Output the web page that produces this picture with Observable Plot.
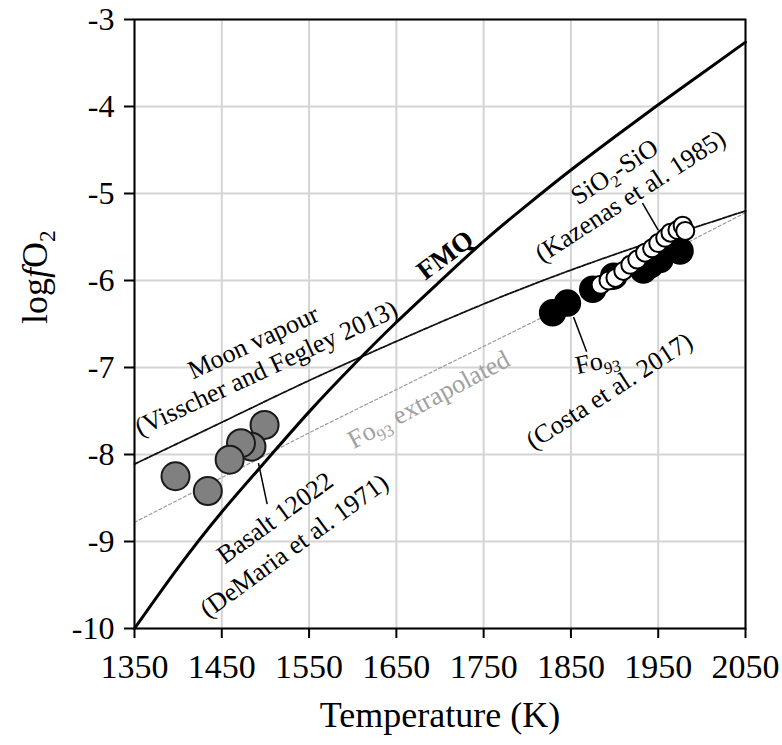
<!DOCTYPE html>
<html>
<head>
<meta charset="utf-8">
<script src="https://cdn.jsdelivr.net/npm/d3@7"></script>
<script src="https://cdn.jsdelivr.net/npm/@observablehq/plot@0.6"></script>
<style>
  html, body { margin: 0; padding: 0; background: #fff; }
</style>
</head>
<body>
<div id="chart"></div>
<script>
// ---- axes ----
const xTicks = [1350, 1450, 1550, 1650, 1750, 1850, 1950, 2050];
const yTicks = [-10, -9, -8, -7, -6, -5, -4, -3];

// ---- FMQ buffer ----
const fmqT = [1350, 1400, 1450, 1500, 1550, 1600, 1650, 1700, 1750, 1800, 1850, 1900, 1950, 2000, 2050];
const fmqV = [-10.0, -9.30, -8.66, -8.08, -7.51, -6.98, -6.48, -6.01, -5.55, -5.13, -4.73, -4.35, -3.98, -3.62, -3.26];

// ---- Moon vapour (Visscher and Fegley 2013) ----
const moonT = [1350, 1450, 1550, 1650, 1750, 1850, 1950, 2050];
const moonV = [-8.11, -7.63, -7.15, -6.70, -6.27, -5.88, -5.53, -5.20];

// ---- Fo93 extrapolated ----
const foExtT = [1350, 1560, 1812, 2050];
const foExtV = [-8.78, -7.70, -6.45, -5.22];

// ---- Basalt 12022 (DeMaria et al. 1971) ----
const basaltT = [1499, 1484, 1472, 1459, 1434, 1397];
const basaltV = [-7.66, -7.91, -7.87, -8.06, -8.42, -8.25];

// ---- Fo93 (Costa et al. 2017) ----
const fo93T = [1829, 1846, 1875, 1899, 1933, 1941, 1952, 1975];
const fo93V = [-6.37, -6.26, -6.10, -5.95, -5.88, -5.82, -5.76, -5.66];

// ---- SiO2-SiO (Kazenas et al. 1985) ----
const sioT = [1884, 1893, 1901, 1910, 1918, 1926, 1935, 1943, 1950, 1958, 1964, 1972, 1978, 1981];
const sioV = [-6.05, -6.00, -5.97, -5.89, -5.82, -5.76, -5.68, -5.63, -5.57, -5.51, -5.45, -5.42, -5.37, -5.43];

// ---- annotations ----
const labelText  = ["Moon vapour", "(Visscher and Fegley 2013)", "Basalt 12022", "(DeMaria et al. 1971)",
                    "SiO_{2}-SiO", "(Kazenas et al. 1985)", "Fo_{93}", "(Costa et al. 2017)"];
const labelT     = [1486, 1501, 1511, 1533, 1900, 1918, 1880, 1894];
const labelV     = [-6.71, -7.01, -8.73, -9.05, -4.75, -5.03, -6.93, -7.27];
const labelAngle = [-25, -25, -36, -36, -33, -33, -12, -33];

const fmqLabel = ["FMQ"], fmqLabelT = [1706], fmqLabelV = [-5.71];
const extLabel = ["Fo_{93} extrapolated"], extLabelT = [1687], extLabelV = [-7.37];

// leader lines
const leadT1 = [1492, 1853, 1932];
const leadV1 = [-8.10, -6.42, -5.11];
const leadT2 = [1502, 1868, 1950];
const leadV2 = [-8.57, -6.82, -5.42];

const xTitle = "Temperature (K)";
const yTitle = "log*{f}O_{2}";

// ---- build tables ----
const zip = (xs, ys) => xs.map((x, i) => ({T: x, v: ys[i]}));
const fmq = zip(fmqT, fmqV);
const moon = zip(moonT, moonV);
const foExt = zip(foExtT, foExtV);
const basalt = zip(basaltT, basaltV);
const fo93 = zip(fo93T, fo93V);
const sio = zip(sioT, sioV);
const labels = labelText.map((s, i) => ({s, T: labelT[i], v: labelV[i], a: labelAngle[i]}));
const leaders = leadT1.map((t, i) => ({T1: t, v1: leadV1[i], T2: leadT2[i], v2: leadV2[i]}));

const serif = "'Liberation Serif', 'Times New Roman', 'DejaVu Serif', serif";

const svg = Plot.plot({
  width: 782,
  height: 745,
  marginLeft: 134,
  marginRight: 37,
  marginTop: 19,
  marginBottom: 117,
  x: {domain: [1350, 2050]},
  y: {domain: [-10, -3]},
  style: {fontFamily: serif, background: "white", color: "black"},
  marks: [
    Plot.gridX({ticks: xTicks, stroke: "#d4d4d4", strokeOpacity: 1, strokeWidth: 2}),
    Plot.gridY({ticks: yTicks, stroke: "#d4d4d4", strokeOpacity: 1, strokeWidth: 2}),
    Plot.line(foExt, {x: "T", y: "v", stroke: "#9a9a9a", strokeWidth: 1.2, strokeDasharray: "3,2.5"}),
    Plot.line(moon, {x: "T", y: "v", stroke: "#111", strokeWidth: 1.8, strokeDasharray: "4,1.5", curve: "natural"}),
    Plot.line(fmq, {x: "T", y: "v", stroke: "black", strokeWidth: 3, curve: "natural"}),
    Plot.link(leaders, {x1: "T1", y1: "v1", x2: "T2", y2: "v2", stroke: "black", strokeWidth: 1.5}),
    Plot.dot(basalt, {x: "T", y: "v", r: 14, fill: "#808080", stroke: "#1a1a1a", strokeWidth: 2}),
    Plot.dot(fo93, {x: "T", y: "v", r: 13, fill: "black", stroke: "black", strokeWidth: 1.5}),
    Plot.dot(sio, {x: "T", y: "v", r: 9, fill: "white", stroke: "black", strokeWidth: 2}),
    Plot.frame({stroke: "black", strokeWidth: 2}),
    Plot.axisX({ticks: xTicks, tickSize: 10, tickPadding: 15, fontSize: 34, strokeWidth: 2,
                tickFormat: d => String(d), label: null}),
    Plot.axisY({ticks: yTicks, tickSize: 10, tickPadding: 10, fontSize: 32, strokeWidth: 2,
                tickFormat: d => String(d), label: null}),
    Plot.text(labels, {x: "T", y: "v", text: "s", rotate: "a", fontSize: 26, lineAnchor: "middle", fill: "black"}),
    Plot.text(fmqLabel, {x: () => fmqLabelT[0], y: () => fmqLabelV[0], text: d => d, rotate: -37,
                         fontSize: 27, fontWeight: "bold", lineAnchor: "middle", fill: "black"}),
    Plot.text(extLabel, {x: () => extLabelT[0], y: () => extLabelV[0], text: d => d, rotate: -28,
                         fontSize: 26, lineAnchor: "middle", fill: "#a0a0a0"}),
    Plot.text([xTitle], {frameAnchor: "bottom", dy: 87, text: d => d, fontSize: 36, lineAnchor: "middle", fill: "black"}),
    Plot.text([yTitle], {frameAnchor: "left", dx: -99, text: d => d, rotate: -90, fontSize: 36, lineAnchor: "middle", fill: "black"})
  ]
});

// rich text: _{..} subscript, *{..} italic
d3.select(svg).selectAll("text").each(function () {
  const el = this;
  const s = el.textContent;
  if (!/[_*]\{/.test(s)) return;
  const parts = s.split(/([_*]\{[^}]*\})/).filter(p => p.length);
  while (el.firstChild) el.removeChild(el.firstChild);
  let restore = false;
  for (const p of parts) {
    const ts = document.createElementNS("http://www.w3.org/2000/svg", "tspan");
    if (p.startsWith("_{")) {
      ts.textContent = p.slice(2, -1);
      ts.setAttribute("font-size", "0.65em");
      ts.setAttribute("dy", "0.35em");
      restore = true;
    } else if (p.startsWith("*{")) {
      ts.textContent = p.slice(2, -1);
      ts.setAttribute("font-style", "italic");
      if (restore) { ts.setAttribute("dy", "-0.2275em"); restore = false; }
    } else {
      ts.textContent = p;
      if (restore) { ts.setAttribute("dy", "-0.2275em"); restore = false; }
    }
    el.appendChild(ts);
  }
});

document.getElementById("chart").appendChild(svg);
</script>
</body>
</html>
